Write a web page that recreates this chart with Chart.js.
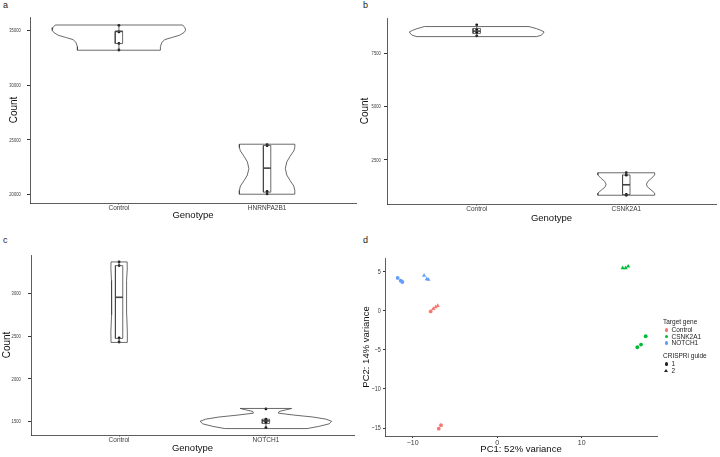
<!DOCTYPE html>
<html>
<head>
<meta charset="utf-8">
<script src="https://cdn.jsdelivr.net/npm/chart.js@4.4.0/dist/chart.umd.min.js"></script>
<style>
    html, body { margin: 0; padding: 0; background: #fff; }
    body { width: 720px; height: 457px; position: relative; overflow: hidden; font-family: "Liberation Sans", Arial, sans-serif; }
    canvas { position: absolute; }
    .tag { position: absolute; font-size: 9px; color: #222; }
    .lg { position: absolute; font-size: 6.5px; line-height: 8px; color: #222; white-space: nowrap; }
    .sym { position: absolute; }
</style>
</head>
<body>
<div class="tag" style="left:3px;top:0px">a</div>
<div class="tag" style="left:363px;top:0px">b</div>
<div class="tag" style="left:3px;top:235px">c</div>
<div class="tag" style="left:363px;top:235px">d</div>
<canvas id="chartA" width="360" height="228" style="left:0;top:0"></canvas>
<canvas id="chartB" width="360" height="228" style="left:360px;top:0"></canvas>
<canvas id="chartC" width="360" height="229" style="left:0;top:228px"></canvas>
<canvas id="chartD" width="360" height="229" style="left:360px;top:228px"></canvas>
<div id="legendD"></div>
<script>
// ---- panel a ----
const catsA = ['Control', 'HNRNPA2B1'];
const countsA = [[35450, 34850, 33800, 33200], [24580, 24480, 20300, 20080]];
const boxA = [[33790, 34900, 34900], [20240, 22430, 24500]]; // q1, median, q3
const violinA = [
    [[33180, 0.28], [33500, 0.28], [33900, 0.29], [34150, 0.31], [34350, 0.36], [34550, 0.41], [34800, 0.44], [35000, 0.45], [35250, 0.445], [35480, 0.43]],
    [[20050, 0.187], [20400, 0.187], [20800, 0.18], [21300, 0.155], [21800, 0.133], [22400, 0.123], [23000, 0.133], [23500, 0.155], [24000, 0.18], [24300, 0.187], [24610, 0.187]]
];
const ticksA = [20000, 25000, 30000, 35000];

// ---- panel b ----
const catsB = ['Control', 'CSNK2A1'];
const countsB = [[8820, 8590, 8460, 8300], [1905, 1790, 890, 850]];
const boxB = [[8420, 8525, 8650], [880, 1340, 1800]];
const violinB = [
    [[8270, 0.40], [8330, 0.43], [8420, 0.445], [8490, 0.45], [8560, 0.43], [8640, 0.40], [8700, 0.37], [8740, 0.35]],
    [[850, 0.19], [950, 0.19], [1100, 0.165], [1250, 0.14], [1370, 0.135], [1500, 0.145], [1650, 0.17], [1800, 0.19], [1900, 0.19]]
];
const ticksB = [2500, 5000, 7500];

// ---- panel c ----
const catsC = ['Control', 'NOTCH1'];
const countsC = [[3366, 3323, 2478, 2431], [1650, 1530, 1518, 1505, 1490, 1430]];
const boxC = [[2473, 2953, 3323], [1480, 1510, 1530]];
const violinC = [
    [[2426, 0.055], [2550, 0.056], [2750, 0.052], [2950, 0.05], [3150, 0.052], [3300, 0.056], [3366, 0.055]],
    [[1420, 0.28], [1445, 0.36], [1475, 0.43], [1505, 0.448], [1530, 0.41], [1555, 0.32], [1578, 0.19], [1600, 0.085], [1620, 0.09], [1640, 0.14], [1655, 0.175]]
];
const ticksC = [1500, 2000, 2500, 3000];

// ---- panel d (PCA) ----
const pcGenes = ['Control', 'CSNK2A1', 'NOTCH1'];
const pcColors = ['#F8766D', '#00BA38', '#619CFF'];
const pcGuides = ['1', '2'];
const ctrlPC1 = [-7.87, -6.92, -6.65, -7.56, -7.28, -7.04];
const ctrlPC2 = [-0.08, -15.08, -14.64, 0.26, 0.47, 0.64];
const ctrlGuide = [1, 1, 1, 2, 2, 2];
const csnkPC1 = [16.58, 17.02, 17.57, 14.85, 15.2, 15.5];
const csnkPC2 = [-4.67, -4.33, -3.26, 5.47, 5.47, 5.69];
const csnkGuide = [1, 1, 1, 2, 2, 2];
const notchPC1 = [-11.78, -11.42, -11.23, -8.66, -8.34, -8.15];
const notchPC2 = [4.2, 3.85, 3.68, 4.49, 4.07, 3.98];
const notchGuide = [1, 1, 1, 2, 2, 2];
const pcXTicks = [-10, 0, 10];
const pcYTicks = [-15, -10, -5, 0, 5];

const FONT = '"Liberation Sans", Arial, sans-serif';
const AXIS = '#333333';
const TICKTXT = '#4d4d4d';
const BOX_HALF = 0.025;

function minusFmt(v) { return v < 0 ? '\u2212' + Math.abs(v) : String(v); }

// y tick labels in the figure are horizontally condensed, so draw them squeezed
const squeezeY = {
    id: 'squeezeY',
    afterDraw(chart, args, opts) {
        const s = chart.scales.y;
        const ctx = chart.ctx;
        ctx.save();
        ctx.font = opts.size + 'px ' + FONT;
        ctx.fillStyle = '#383838';
        ctx.textAlign = 'right';
        ctx.textBaseline = 'middle';
        s.ticks.forEach(t => {
            const label = minusFmt(t.value);
            const w = ctx.measureText(label).width;
            ctx.fillText(label, opts.right, s.getPixelForValue(t.value), w * opts.squeeze);
        });
        ctx.restore();
    }
};

function lineSet(points, width) {
    return {
        type: 'scatter', data: points, showLine: true, fill: false,
        borderColor: '#444', borderWidth: width, pointRadius: 0, tension: 0
    };
}

function violinChart(id, cats, counts, boxes, violins, yMin, yMax, yTicks, area, titles) {
    const H = document.getElementById(id).height;
    const datasets = [];
    cats.forEach((c, i) => {
        const x = i + 1;
        const prof = violins[i];
        const outline = prof.map(p => ({x: x + p[1], y: p[0]}))
            .concat(prof.slice().reverse().map(p => ({x: x - p[1], y: p[0]})));
        outline.push(outline[0]);
        datasets.push(lineSet(outline, 0.8));

        const [q1, med, q3] = boxes[i];
        const iqr = q3 - q1;
        const inside = counts[i].filter(v => v >= q1 - 1.5 * iqr && v <= q3 + 1.5 * iqr);
        const lo = Math.min(...inside), hi = Math.max(...inside);
        datasets.push(lineSet([{x: x, y: lo}, {x: x, y: q1}], 0.8));
        datasets.push(lineSet([{x: x, y: q3}, {x: x, y: hi}], 0.8));
        datasets.push(lineSet([
            {x: x - BOX_HALF, y: q1}, {x: x + BOX_HALF, y: q1}, {x: x + BOX_HALF, y: q3},
            {x: x - BOX_HALF, y: q3}, {x: x - BOX_HALF, y: q1}
        ], 0.8));
        datasets.push(lineSet([{x: x - BOX_HALF, y: med}, {x: x + BOX_HALF, y: med}], 1.6));
        datasets.push({
            type: 'scatter', data: counts[i].map(v => ({x: x, y: v})),
            pointRadius: 1.4, backgroundColor: '#111', borderWidth: 0
        });
    });

    new Chart(document.getElementById(id), {
        type: 'scatter',
        data: { datasets: datasets },
        plugins: [squeezeY],
        options: {
            responsive: false,
            animation: false,
            layout: { padding: { left: 0, top: area.t, right: 360 - area.r, bottom: 0 } },
            plugins: {
                legend: { display: false }, tooltip: { enabled: false },
                squeezeY: { size: 6, squeeze: 0.68, right: 20.7 }
            },
            scales: {
                x: {
                    type: 'linear', min: 0.4, max: 2.6,
                    afterBuildTicks: s => { s.ticks = cats.map((c, i) => ({value: i + 1})); },
                    afterFit: s => { s.height = H - area.b; },
                    ticks: { callback: v => cats[v - 1], font: { family: FONT, size: 6.5 }, color: '#3a3a3a', padding: 0, autoSkip: false, maxRotation: 0 },
                    grid: { display: true, drawOnChartArea: false, drawTicks: true, tickLength: 1.5, color: AXIS },
                    border: { display: true, color: AXIS, width: 0.8 },
                    title: { display: true, text: 'Genotype', font: { family: FONT, size: 9.5 }, color: '#111', padding: { top: 0, bottom: titles.xb } }
                },
                y: {
                    min: yMin, max: yMax,
                    afterBuildTicks: s => { s.ticks = yTicks.map(v => ({value: v})); },
                    afterFit: s => { s.width = area.l; },
                    ticks: { callback: v => String(v), font: { family: FONT, size: 5.5 }, color: 'rgba(0,0,0,0)' },
                    grid: { display: true, drawOnChartArea: false, drawTicks: true, tickLength: 3, color: AXIS },
                    border: { display: true, color: AXIS, width: 0.8 },
                    title: { display: true, text: 'Count', font: { family: FONT, size: 10 }, color: '#111', padding: { top: titles.yt, bottom: 0 } }
                }
            }
        }
    });
}

violinChart('chartA', catsA, countsA, boxA, violinA, 19250, 36210, ticksA, {l: 30, r: 358, t: 17, b: 203}, {yt: 8, xb: 7});
violinChart('chartB', catsB, countsB, boxB, violinB, 440, 9140, ticksB, {l: 27, r: 359, t: 18, b: 204}, {yt: -1, xb: 4});
violinChart('chartC', catsC, countsC, boxC, violinC, 1345, 3447, ticksC, {l: 31, r: 354, t: 27, b: 207}, {yt: 1.5, xb: 3});

// ---- PCA scatter ----
const pcSets = [
    [ctrlPC1, ctrlPC2, ctrlGuide],
    [csnkPC1, csnkPC2, csnkGuide],
    [notchPC1, notchPC2, notchGuide]
];
const pcDatasets = [];
pcSets.forEach((s, gi) => {
    [1, 2].forEach(g => {
        const pts = [];
        s[0].forEach((x, k) => { if (s[2][k] === g) pts.push({x: x, y: s[1][k]}); });
        pcDatasets.push({
            label: pcGenes[gi] + ' ' + g,
            data: pts,
            pointStyle: g === 1 ? 'circle' : 'triangle',
            pointRadius: g === 1 ? 1.9 : 2.4,
            backgroundColor: pcColors[gi],
            borderColor: pcColors[gi],
            borderWidth: 0
        });
    });
});

const areaD = {l: 25, r: 297, t: 30, b: 208};
new Chart(document.getElementById('chartD'), {
    type: 'scatter',
    data: { datasets: pcDatasets },
    plugins: [squeezeY],
    options: {
        responsive: false,
        animation: false,
        layout: { padding: { left: 0, top: areaD.t, right: 360 - areaD.r, bottom: 0 } },
        plugins: {
            legend: { display: false }, tooltip: { enabled: false },
            squeezeY: { size: 7, squeeze: 0.78, right: 20.7 }
        },
        scales: {
            x: {
                type: 'linear', min: -13.28, max: 18.91,
                afterBuildTicks: s => { s.ticks = pcXTicks.map(v => ({value: v})); },
                afterFit: s => { s.height = 229 - areaD.b; },
                ticks: { callback: minusFmt, font: { family: FONT, size: 7 }, color: '#3a3a3a', padding: 1, maxRotation: 0 },
                grid: { display: true, drawOnChartArea: false, drawTicks: true, tickLength: 2, color: AXIS },
                border: { display: true, color: AXIS, width: 0.8 },
                title: { display: true, text: 'PC1: 52% variance', font: { family: FONT, size: 9.5 }, color: '#111', padding: { top: 0, bottom: 2 } }
            },
            y: {
                min: -16.02, max: 6.75,
                afterBuildTicks: s => { s.ticks = pcYTicks.map(v => ({value: v})); },
                afterFit: s => { s.width = areaD.l; },
                ticks: { callback: minusFmt, font: { family: FONT, size: 7 }, color: 'rgba(0,0,0,0)' },
                grid: { display: true, drawOnChartArea: false, drawTicks: true, tickLength: 2, color: AXIS },
                border: { display: true, color: AXIS, width: 0.8 },
                title: { display: true, text: 'PC2: 14% variance', font: { family: FONT, size: 9.5 }, color: '#111', padding: { top: 0.5, bottom: 0 } }
            }
        }
    }
});

// legend for panel d
const legendBox = document.getElementById('legendD');
function addRow(text, left, cy) {
    const d = document.createElement('div');
    d.className = 'lg';
    d.style.left = left + 'px';
    d.style.top = (cy - 4) + 'px';
    d.textContent = text;
    legendBox.appendChild(d);
}
function addSym(kind, color, cx, cy) {
    const s = document.createElement('div');
    s.className = 'sym';
    if (kind === 'circle') {
        s.style.cssText = 'left:' + (cx - 1.7) + 'px;top:' + (cy - 1.7) + 'px;width:3.4px;height:3.4px;border-radius:50%;background:' + color;
    } else {
        s.style.cssText = 'left:' + (cx - 2.2) + 'px;top:' + (cy - 2) + 'px;width:0;height:0;border-left:2.2px solid transparent;border-right:2.2px solid transparent;border-bottom:3.8px solid ' + color;
    }
    legendBox.appendChild(s);
}
let ly = 322;
addRow('Target gene', 663, ly);
ly += 8;
pcGenes.forEach((g, i) => {
    addSym('circle', pcColors[i], 666.5, ly);
    addRow(g, 671.5, ly);
    ly += 6.5;
});
ly = 356;
addRow('CRISPRi guide', 663, ly);
ly += 8;
pcGuides.forEach((g, i) => {
    addSym(i === 0 ? 'circle' : 'triangle', '#222', 666.5, ly);
    addRow(g, 671.5, ly);
    ly += 7;
});
</script>
</body>
</html>
